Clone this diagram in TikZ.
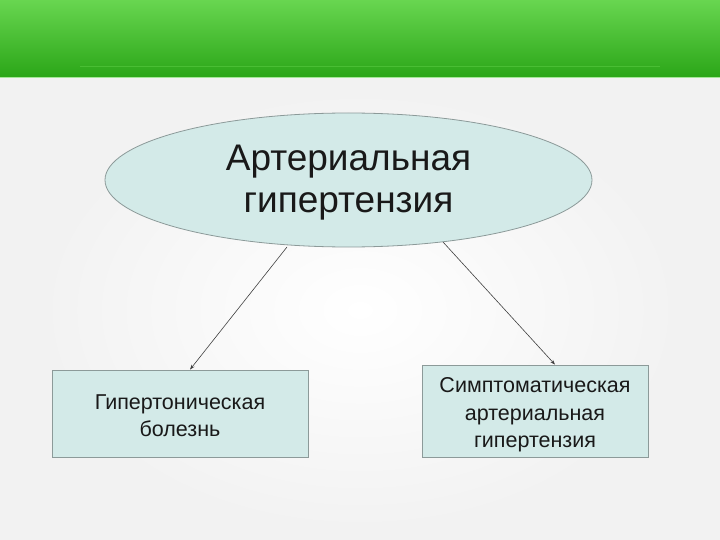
\documentclass[tikz,border=0pt]{standalone}
\usepackage{fontspec}
\setmainfont{Liberation Sans}
\usetikzlibrary{shapes.geometric,arrows.meta}
\definecolor{nodefill}{HTML}{D3EAE8}
\definecolor{nodeline}{HTML}{8C9A99}
\definecolor{gtop}{HTML}{68D650}
\definecolor{gbot}{HTML}{2BA618}
\definecolor{bg}{HTML}{F2F2F2}
\tikzset{
  shapebox/.style={draw=nodeline, fill=nodefill, line width=0.8pt, align=center, text=black!90, font=\fontsize{21.5}{27}\selectfont, inner sep=0pt},
  link/.style={draw=black!75, line width=0.6pt, -{Stealth[length=5pt,width=3.5pt]}}
}
\begin{document}
\begin{tikzpicture}[x=1pt,y=-1pt]
\useasboundingbox (0,0) rectangle (720,540);
\fill[bg] (0,0) rectangle (720,540);
\shade[inner color=white, outer color=bg] (40,90) rectangle (680,530);
\shade[top color=gtop, bottom color=gbot] (0,0) rectangle (720,77);
\draw[gtop!50!gbot, line width=0.8pt] (80,66) -- (660,66);
\draw[gtop!60!white, line width=1pt] (0,77.5) -- (720,77.5);
\node[shapebox, ellipse, minimum width=487pt, minimum height=134pt, font=\fontsize{37}{42}\selectfont] (top) at (348.5,180) {\rule{0pt}{30pt}Артериальная\\гипертензия};
\node[shapebox, rectangle, minimum width=256pt, minimum height=87pt] (left) at (180,413.5) {\rule{0pt}{19pt}Гипертоническая\\болезнь};
\node[shapebox, rectangle, minimum width=226pt, minimum height=92pt, font=\fontsize{21.5}{27.5}\selectfont] (right) at (535,411) {\rule{0pt}{23pt}Симптоматическая\\артериальная\\гипертензия};
\coordinate (ls) at (287,247);
\coordinate (rs) at (443,242);
\draw[link] (ls) -- (left.north west -| 190,0);
\draw[link] (rs) -- (right.north west -| 555,0);
\end{tikzpicture}
\end{document}
